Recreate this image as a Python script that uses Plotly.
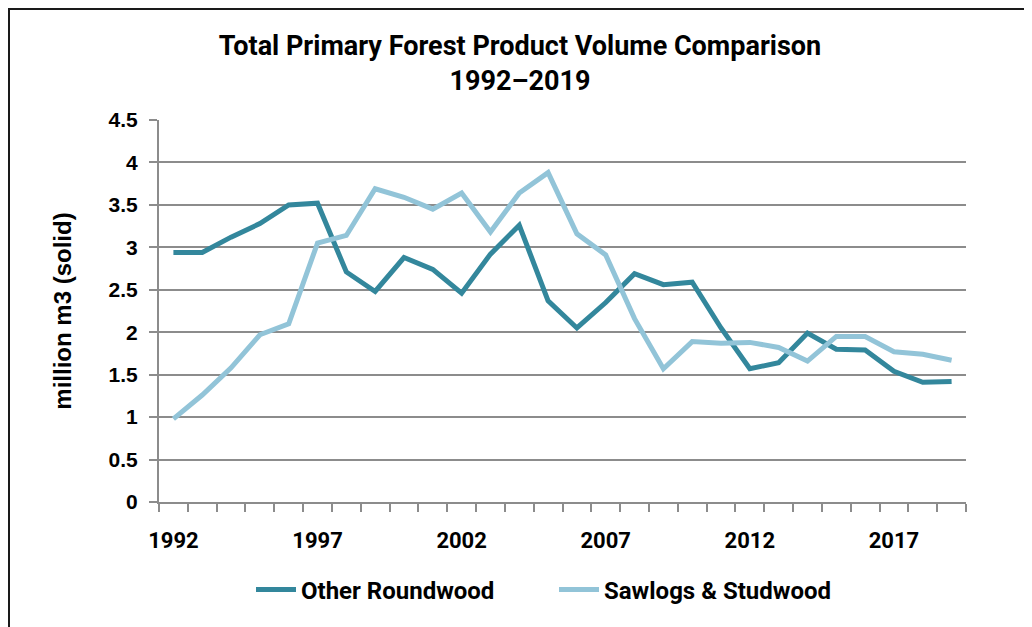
import plotly.graph_objects as go

years = list(range(1992, 2020))

other_roundwood = [
    2.94, 2.94, 3.12, 3.28, 3.50, 3.52, 2.71, 2.48, 2.88, 2.74,
    2.46, 2.92, 3.26, 2.37, 2.05, 2.35, 2.69, 2.56, 2.59, 2.05,
    1.57, 1.64, 1.99, 1.80, 1.79, 1.54, 1.41, 1.42,
]
sawlogs_studwood = [
    0.98, 1.26, 1.58, 1.97, 2.10, 3.05, 3.14, 3.69, 3.59, 3.45,
    3.64, 3.18, 3.64, 3.88, 3.16, 2.91, 2.16, 1.57, 1.89, 1.87,
    1.88, 1.82, 1.66, 1.95, 1.95, 1.77, 1.74, 1.67,
]
label_years = [1992, 1997, 2002, 2007, 2012, 2017]

DARK = "#33879c"
LIGHT = "#92c4d8"
GRID = "#8c8c8c"

# page has an 8px body margin, so the figure is a bit smaller than the window
W, H = 1024, 619
L, R, T, B = 151, 66, 112, 125
pw, ph = W - L - R, H - T - B

fig = go.Figure()
fig.add_trace(go.Scatter(x=years, y=other_roundwood, name="Other Roundwood",
                         mode="lines", line=dict(color=DARK, width=5)))
fig.add_trace(go.Scatter(x=years, y=sawlogs_studwood, name="Sawlogs & Studwood",
                         mode="lines", line=dict(color=LIGHT, width=5)))

# frame around the chart (left/top visible in the reference)
fig.add_shape(type="rect", xref="paper", yref="paper",
              x0=(1 - L) / pw, x1=2,
              y0=-1, y1=1 + (T - 1) / ph,
              line=dict(color="#1a1a1a", width=2), fillcolor="rgba(0,0,0,0)",
              layer="below")

fig.update_layout(
    width=W, height=H,
    margin=dict(l=L, r=R, t=T, b=B),
    paper_bgcolor="white", plot_bgcolor="white",
    title=dict(text="Total Primary Forest Product Volume Comparison<br>1992–2019",
               x=0.5, xanchor="center", y=0.924, yanchor="top", yref="container",
               font=dict(family="Roboto", size=27, color="black", weight="bold")),
    xaxis=dict(range=[1991.5, 2019.5], tickvals=label_years,
               ticks="", showgrid=False, zeroline=False,
               showline=True, linecolor=GRID, linewidth=2,
               ticklabelstandoff=18,
               tickfont=dict(family="Roboto", size=22, color="black", weight="bold"),
               minor=dict(ticks="outside", ticklen=8, tickwidth=2, tickcolor=GRID,
                          tick0=1991.5, dtick=1, showgrid=False)),
    yaxis=dict(range=[0, 4.5], dtick=0.5, showgrid=True, gridcolor=GRID, gridwidth=2,
               zeroline=False, showline=True, linecolor=GRID, linewidth=2,
               ticks="outside", ticklen=8, tickwidth=2, tickcolor=GRID,
               ticklabelstandoff=7,
               tickfont=dict(family="Liberation Sans", size=21, color="black", weight="bold"),
               title=dict(text="million m3 (solid)", standoff=30,
                          font=dict(family="Liberation Sans", size=24, color="black",
                                    weight="bold"))),
    legend=dict(orientation="h", x=(256 - 8 - L - 5) / pw, xanchor="left",
                y=-0.23, yanchor="middle",
                font=dict(family="Roboto", size=24, color="black", weight="bold"),
                itemwidth=40, entrywidth=248, entrywidthmode="pixels", tracegroupgap=0),
    showlegend=True,
)

fig.write_html("out.html")
